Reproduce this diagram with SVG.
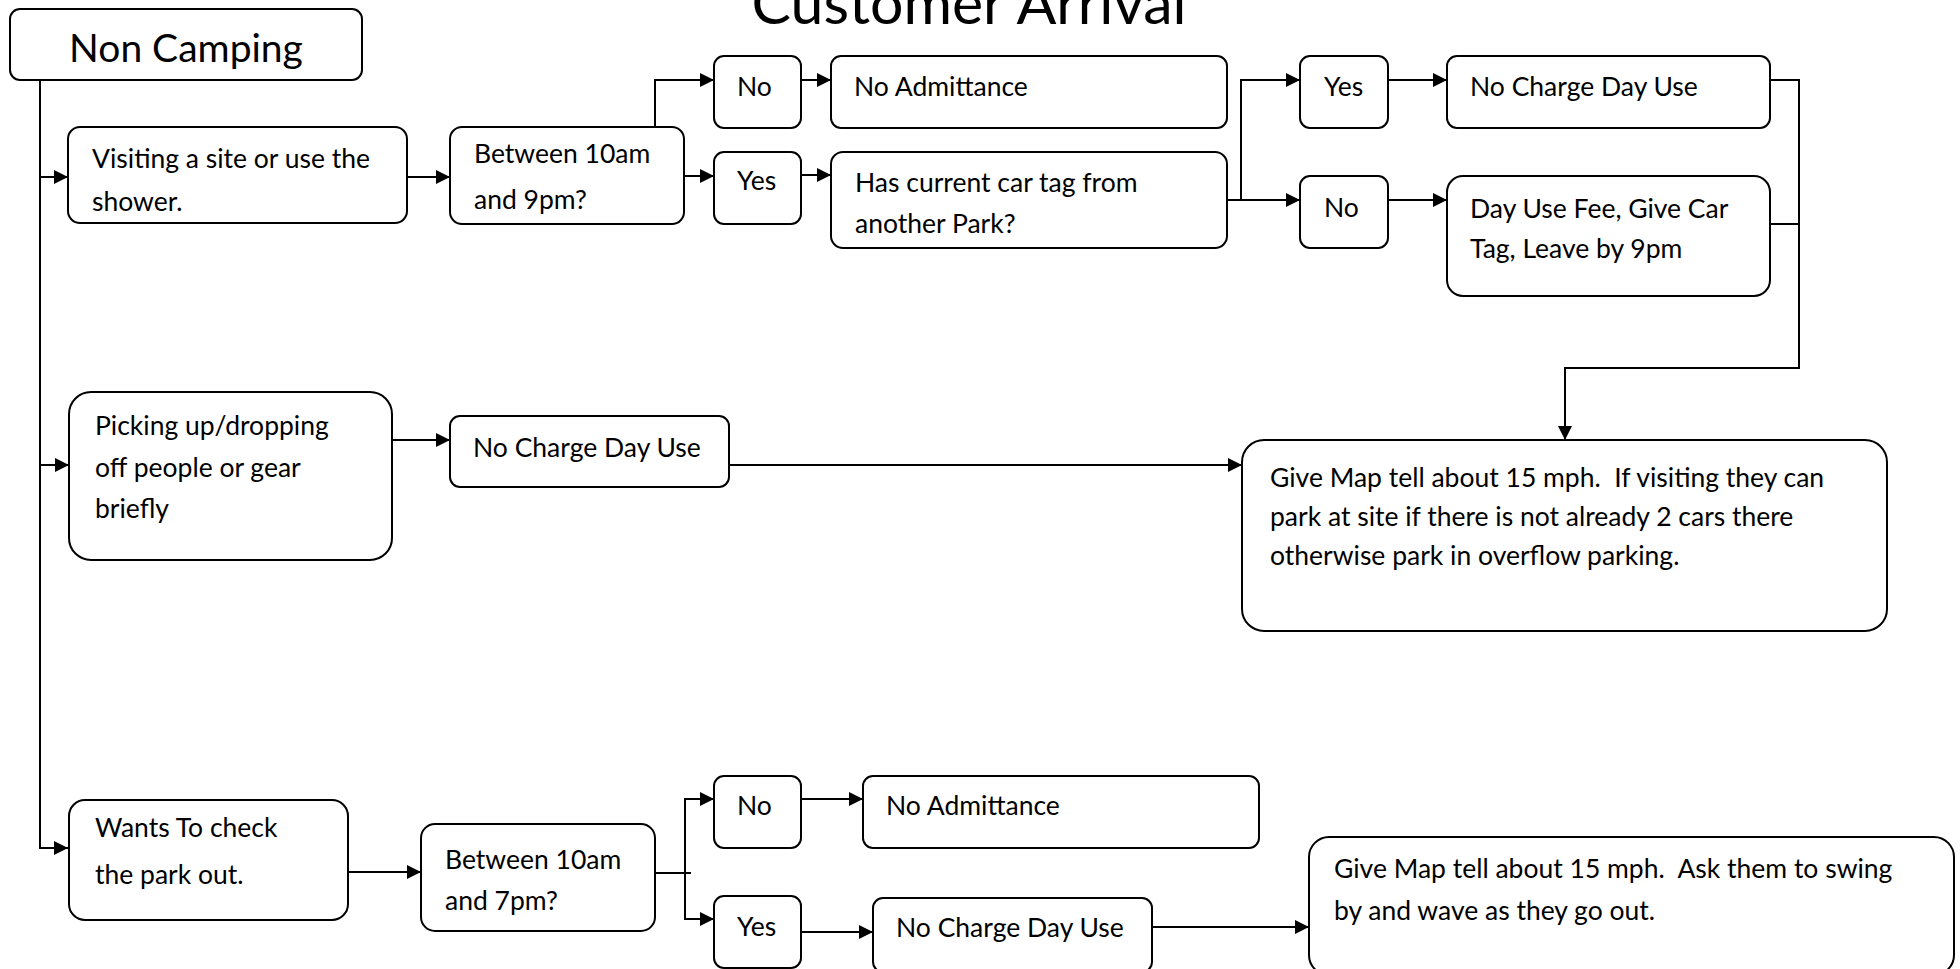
<svg xmlns="http://www.w3.org/2000/svg" width="1960" height="969" viewBox="0 0 1960 969">
<defs>
<style>
.b{fill:#fff;stroke:#000;stroke-width:2}
.t{font-family:Lato,"Open Sans",sans-serif;font-size:26.5px;fill:#000;white-space:pre}
.c{fill:none;stroke:#000;stroke-width:2}
</style>
<marker id="ah" viewBox="0 0 14 14" refX="14" refY="7" markerWidth="14" markerHeight="14" markerUnits="userSpaceOnUse" orient="auto">
<path d="M0,0 L14,7 L0,14 z" fill="#000"/>
</marker>
</defs>
<rect width="1960" height="969" fill="#fff"/>
<text x="969" y="24" text-anchor="middle" style="font-family:Lato,'Open Sans',sans-serif;font-size:59px">Customer Arrival</text>

<g id="connectors" class="c">
<polyline points="40,80 40,848 68,848" marker-end="url(#ah)"/>
<line x1="40" y1="177" x2="68" y2="177" marker-end="url(#ah)"/>
<line x1="40" y1="465" x2="69" y2="465" marker-end="url(#ah)"/>
<line x1="407" y1="177" x2="450" y2="177" marker-end="url(#ah)"/>
<polyline points="655,127 655,80 714,80" marker-end="url(#ah)"/>
<line x1="684" y1="176" x2="714" y2="176" marker-end="url(#ah)"/>
<line x1="801" y1="80" x2="831" y2="80" marker-end="url(#ah)"/>
<line x1="801" y1="175" x2="831" y2="175" marker-end="url(#ah)"/>
<line x1="1227" y1="200" x2="1300" y2="200" marker-end="url(#ah)"/>
<polyline points="1241,200 1241,80 1300,80" marker-end="url(#ah)"/>
<line x1="1388" y1="80" x2="1447" y2="80" marker-end="url(#ah)"/>
<line x1="1388" y1="200" x2="1447" y2="200" marker-end="url(#ah)"/>
<polyline points="1770,80 1799,80 1799,368 1565,368 1565,440" marker-end="url(#ah)"/>
<line x1="1770" y1="224" x2="1799" y2="224"/>
<line x1="392" y1="440" x2="450" y2="440" marker-end="url(#ah)"/>
<line x1="729" y1="465" x2="1242" y2="465" marker-end="url(#ah)"/>
<line x1="348" y1="872" x2="421" y2="872" marker-end="url(#ah)"/>
<line x1="655" y1="873" x2="691" y2="873"/>
<polyline points="714,799 685,799 685,919 714,919" marker-end="url(#ah)"/>
<line x1="685" y1="799" x2="714" y2="799" marker-end="url(#ah)"/>
<line x1="801" y1="799" x2="863" y2="799" marker-end="url(#ah)"/>
<line x1="801" y1="932" x2="873" y2="932" marker-end="url(#ah)"/>
<line x1="1152" y1="927" x2="1309" y2="927" marker-end="url(#ah)"/>
</g>

<g id="nonCamping"><rect class="b" x="10" y="9" width="352" height="71" rx="10"/><text class="t" x="186" y="62" text-anchor="middle" style="font-size:39px">Non Camping</text></g>
<g id="visiting"><rect class="b" x="68" y="127" width="339" height="96" rx="12"/><text class="t" x="92" y="168">Visiting a site or use the</text><text class="t" x="92" y="211">shower.</text></g>
<g id="between1"><rect class="b" x="450" y="127" width="234" height="97" rx="12"/><text class="t" x="474" y="163">Between 10am</text><text class="t" x="474" y="209">and 9pm?</text></g>
<g id="no1"><rect class="b" x="714" y="56" width="87" height="72" rx="10"/><text class="t" x="737" y="96">No</text></g>
<g id="noAdmittance1"><rect class="b" x="831" y="56" width="396" height="72" rx="10"/><text class="t" x="854" y="96">No Admittance</text></g>
<g id="yes1"><rect class="b" x="714" y="152" width="87" height="72" rx="10"/><text class="t" x="737" y="190">Yes</text></g>
<g id="hasTag"><rect class="b" x="831" y="152" width="396" height="96" rx="12"/><text class="t" x="855" y="192">Has current car tag from</text><text class="t" x="855" y="233">another Park?</text></g>
<g id="yesR"><rect class="b" x="1300" y="56" width="88" height="72" rx="10"/><text class="t" x="1324" y="96">Yes</text></g>
<g id="noR"><rect class="b" x="1300" y="176" width="88" height="72" rx="10"/><text class="t" x="1324" y="217">No</text></g>
<g id="noChargeTop"><rect class="b" x="1447" y="56" width="323" height="72" rx="10"/><text class="t" x="1470" y="96">No Charge Day Use</text></g>
<g id="dayUseFee"><rect class="b" x="1447" y="176" width="323" height="120" rx="16"/><text class="t" x="1470" y="218">Day Use Fee, Give Car</text><text class="t" x="1470" y="258">Tag, Leave by 9pm</text></g>
<g id="picking"><rect class="b" x="69" y="392" width="323" height="168" rx="22"/><text class="t" x="95" y="435">Picking up/dropping</text><text class="t" x="95" y="477">off people or gear</text><text class="t" x="95" y="518">briefly</text></g>
<g id="noChargeMid"><rect class="b" x="450" y="416" width="279" height="71" rx="10"/><text class="t" x="473" y="457">No Charge Day Use</text></g>
<g id="giveMap1"><rect class="b" x="1242" y="440" width="645" height="191" rx="22"/><text class="t" x="1270" y="487" xml:space="preserve">Give Map tell about 15 mph.  If visiting they can</text><text class="t" x="1270" y="526">park at site if there is not already 2 cars there</text><text class="t" x="1270" y="565">otherwise park in overflow parking.</text></g>
<g id="wants"><rect class="b" x="69" y="800" width="279" height="120" rx="16"/><text class="t" x="95" y="837">Wants To check</text><text class="t" x="95" y="884">the park out.</text></g>
<g id="between2"><rect class="b" x="421" y="824" width="234" height="107" rx="14"/><text class="t" x="445" y="869">Between 10am</text><text class="t" x="445" y="910">and 7pm?</text></g>
<g id="no2"><rect class="b" x="714" y="776" width="87" height="72" rx="10"/><text class="t" x="737" y="815">No</text></g>
<g id="noAdmittance2"><rect class="b" x="863" y="776" width="396" height="72" rx="10"/><text class="t" x="886" y="815">No Admittance</text></g>
<g id="yes2"><rect class="b" x="714" y="896" width="87" height="72" rx="10"/><text class="t" x="737" y="936">Yes</text></g>
<g id="noChargeBottom"><rect class="b" x="873" y="898" width="279" height="74" rx="10"/><text class="t" x="896" y="937">No Charge Day Use</text></g>
<g id="giveMap2"><rect class="b" x="1309" y="837" width="645" height="138" rx="20"/><text class="t" x="1334" y="878" xml:space="preserve">Give Map tell about 15 mph.  Ask them to swing</text><text class="t" x="1334" y="920">by and wave as they go out.</text></g>
</svg>
